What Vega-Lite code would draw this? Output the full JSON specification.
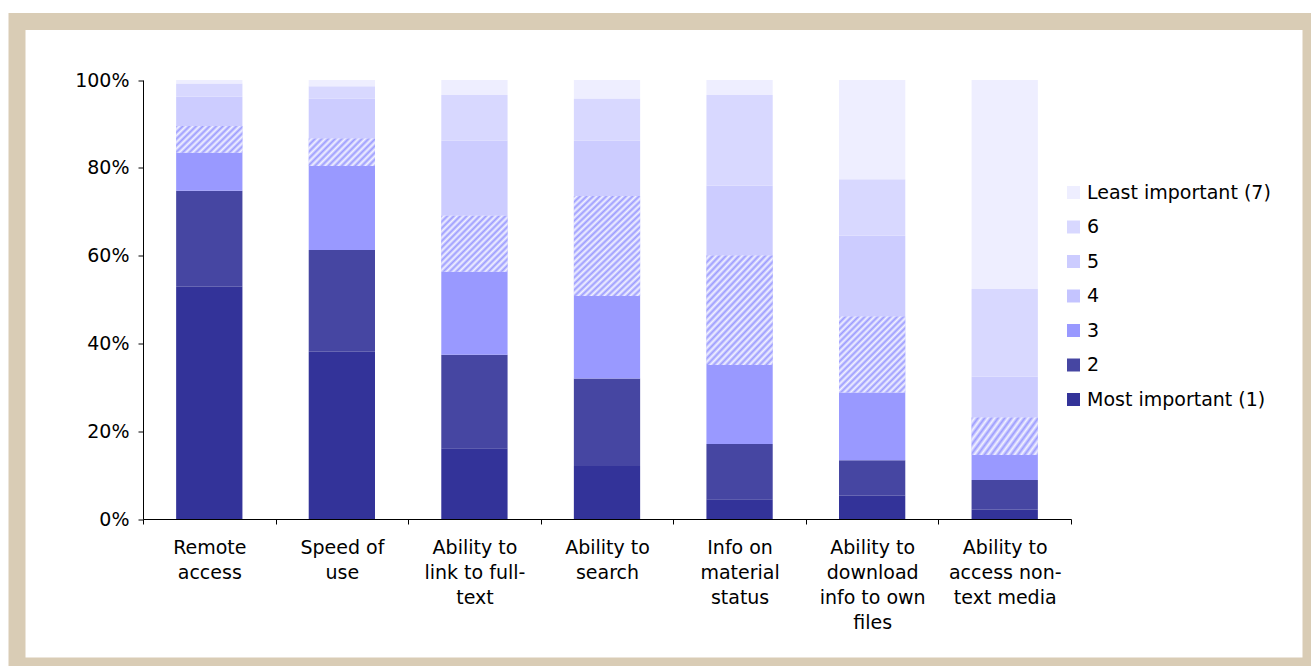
{
  "$schema": "https://vega.github.io/schema/vega-lite/v6.json",
  "width": 1294,
  "height": 644.5,
  "autosize": {"type": "none"},
  "padding": {"left": 17, "top": 21.5, "right": 0, "bottom": 0},
  "background": "white",
  "config": {
    "view": {"fill": "white", "stroke": "#D9CCB5", "strokeWidth": 17},
    "font": "DejaVu Sans"
  },
  "data": {
    "values": [
      {"item": "Remote access", "rank": 1, "label": "Most important (1)", "value": 52.9},
      {"item": "Remote access", "rank": 2, "label": "2", "value": 21.9},
      {"item": "Remote access", "rank": 3, "label": "3", "value": 8.6},
      {"item": "Remote access", "rank": 4, "label": "4", "value": 6.1},
      {"item": "Remote access", "rank": 5, "label": "5", "value": 6.7},
      {"item": "Remote access", "rank": 6, "label": "6", "value": 3.0},
      {"item": "Remote access", "rank": 7, "label": "Least important (7)", "value": 0.8},
      {"item": "Speed of use", "rank": 1, "label": "Most important (1)", "value": 38.1},
      {"item": "Speed of use", "rank": 2, "label": "2", "value": 23.2},
      {"item": "Speed of use", "rank": 3, "label": "3", "value": 19.1},
      {"item": "Speed of use", "rank": 4, "label": "4", "value": 6.3},
      {"item": "Speed of use", "rank": 5, "label": "5", "value": 9.1},
      {"item": "Speed of use", "rank": 6, "label": "6", "value": 2.8},
      {"item": "Speed of use", "rank": 7, "label": "Least important (7)", "value": 1.4},
      {"item": "Ability to link to full-text", "rank": 1, "label": "Most important (1)", "value": 16.1},
      {"item": "Ability to link to full-text", "rank": 2, "label": "2", "value": 21.3},
      {"item": "Ability to link to full-text", "rank": 3, "label": "3", "value": 18.9},
      {"item": "Ability to link to full-text", "rank": 4, "label": "4", "value": 12.8},
      {"item": "Ability to link to full-text", "rank": 5, "label": "5", "value": 17.1},
      {"item": "Ability to link to full-text", "rank": 6, "label": "6", "value": 10.4},
      {"item": "Ability to link to full-text", "rank": 7, "label": "Least important (7)", "value": 3.4},
      {"item": "Ability to search", "rank": 1, "label": "Most important (1)", "value": 12.1},
      {"item": "Ability to search", "rank": 2, "label": "2", "value": 19.9},
      {"item": "Ability to search", "rank": 3, "label": "3", "value": 18.8},
      {"item": "Ability to search", "rank": 4, "label": "4", "value": 22.8},
      {"item": "Ability to search", "rank": 5, "label": "5", "value": 12.6},
      {"item": "Ability to search", "rank": 6, "label": "6", "value": 9.6},
      {"item": "Ability to search", "rank": 7, "label": "Least important (7)", "value": 4.2},
      {"item": "Info on material status", "rank": 1, "label": "Most important (1)", "value": 4.5},
      {"item": "Info on material status", "rank": 2, "label": "2", "value": 12.6},
      {"item": "Info on material status", "rank": 3, "label": "3", "value": 18.0},
      {"item": "Info on material status", "rank": 4, "label": "4", "value": 24.9},
      {"item": "Info on material status", "rank": 5, "label": "5", "value": 15.9},
      {"item": "Info on material status", "rank": 6, "label": "6", "value": 20.7},
      {"item": "Info on material status", "rank": 7, "label": "Least important (7)", "value": 3.4},
      {"item": "Ability to download info to own files", "rank": 1, "label": "Most important (1)", "value": 5.3},
      {"item": "Ability to download info to own files", "rank": 2, "label": "2", "value": 8.1},
      {"item": "Ability to download info to own files", "rank": 3, "label": "3", "value": 15.4},
      {"item": "Ability to download info to own files", "rank": 4, "label": "4", "value": 17.3},
      {"item": "Ability to download info to own files", "rank": 5, "label": "5", "value": 18.4},
      {"item": "Ability to download info to own files", "rank": 6, "label": "6", "value": 12.9},
      {"item": "Ability to download info to own files", "rank": 7, "label": "Least important (7)", "value": 22.6},
      {"item": "Ability to access non-text media", "rank": 1, "label": "Most important (1)", "value": 2.1},
      {"item": "Ability to access non-text media", "rank": 2, "label": "2", "value": 6.8},
      {"item": "Ability to access non-text media", "rank": 3, "label": "3", "value": 5.7},
      {"item": "Ability to access non-text media", "rank": 4, "label": "4", "value": 8.5},
      {"item": "Ability to access non-text media", "rank": 5, "label": "5", "value": 9.3},
      {"item": "Ability to access non-text media", "rank": 6, "label": "6", "value": 20.0},
      {"item": "Ability to access non-text media", "rank": 7, "label": "Least important (7)", "value": 47.6}
    ]
  },
  "transform": [
    {"stack": "value", "groupby": ["item"], "sort": [{"field": "rank", "order": "ascending"}], "offset": "normalize", "as": ["y0", "y1"]}
  ],
  "encoding": {
    "x": {
      "field": "item",
      "type": "nominal",
      "sort": ["Remote access", "Speed of use", "Ability to link to full-text", "Ability to search", "Info on material status", "Ability to download info to own files", "Ability to access non-text media"],
      "scale": {"range": [126, 1054], "paddingInner": 0, "paddingOuter": 0},
      "axis": {
        "title": null,
        "orient": "bottom",
        "offset": -147,
        "tickBand": "extent",
        "tickSize": 5,
        "tickColor": "#000000",
        "domainColor": "#000000",
        "labelAngle": 0,
        "labelFontSize": 19,
        "labelColor": "#000000",
        "labelLineHeight": 25,
        "labelPadding": 14,
        "labelLimit": 0,
        "labelOverlap": false,
        "labelBound": false,
        "grid": false,
        "labelExpr": "{'Remote access': ['Remote', 'access'], 'Speed of use': ['Speed of', 'use'], 'Ability to link to full-text': ['Ability to', 'link to full-', 'text'], 'Ability to search': ['Ability to', 'search'], 'Info on material status': ['Info on', 'material', 'status'], 'Ability to download info to own files': ['Ability to', 'download', 'info to own', 'files'], 'Ability to access non-text media': ['Ability to', 'access non-', 'text media']}[datum.value]"
      }
    },
    "y": {
      "field": "y0",
      "type": "quantitative",
      "scale": {"domain": [0, 1], "range": [497.5, 58.5], "nice": false},
      "axis": {
        "title": null,
        "orient": "left",
        "offset": -126,
        "values": [0, 0.2, 0.4, 0.6, 0.8, 1],
        "format": ".0%",
        "grid": false,
        "tickSize": 5,
        "tickColor": "#000000",
        "domainColor": "#000000",
        "labelFontSize": 19,
        "labelColor": "#000000",
        "labelPadding": 9
      }
    },
    "y2": {"field": "y1"}
  },
  "layer": [
    {
      "mark": {"type": "bar", "width": {"band": 0.5}},
      "encoding": {
        "color": {
          "field": "label",
          "type": "nominal",
          "scale": {
            "domain": ["Least important (7)", "6", "5", "4", "3", "2", "Most important (1)"],
            "range": ["#eeeeff", "#d8d8ff", "#ccccff", "#c4c4ff", "#9999ff", "#4646a2", "#333399"]
          },
          "legend": {
            "title": null,
            "orient": "none",
            "legendX": 1047,
            "legendY": 161.5,
            "symbolType": "square",
            "symbolSize": 169,
            "symbolStrokeWidth": 0,
            "labelFontSize": 19,
            "labelColor": "#000000",
            "labelOffset": 4,
            "labelLimit": 400,
            "rowPadding": 14.5,
            "padding": 0
          }
        }
      }
    },
    {
      "transform": [{"filter": "datum.rank == 4 && (datum.item == 'Remote access' || datum.item == 'Speed of use' || datum.item == 'Ability to access non-text media')"}],
      "mark": {
        "type": "bar",
        "width": {"band": 0.5},
        "fill": {
          "gradient": "linear", "x1": 0, "y1": 0, "x2": 1.207, "y2": 0.5,
          "stops": [
            {"offset": 0, "color": "#9c9cff"}, {"offset": 0.0357, "color": "#f2f2ff"},
            {"offset": 0.0714, "color": "#9c9cff"}, {"offset": 0.1071, "color": "#f2f2ff"},
            {"offset": 0.1429, "color": "#9c9cff"}, {"offset": 0.1786, "color": "#f2f2ff"},
            {"offset": 0.2143, "color": "#9c9cff"}, {"offset": 0.25, "color": "#f2f2ff"},
            {"offset": 0.2857, "color": "#9c9cff"}, {"offset": 0.3214, "color": "#f2f2ff"},
            {"offset": 0.3571, "color": "#9c9cff"}, {"offset": 0.3929, "color": "#f2f2ff"},
            {"offset": 0.4286, "color": "#9c9cff"}, {"offset": 0.4643, "color": "#f2f2ff"},
            {"offset": 0.5, "color": "#9c9cff"}, {"offset": 0.5357, "color": "#f2f2ff"},
            {"offset": 0.5714, "color": "#9c9cff"}, {"offset": 0.6071, "color": "#f2f2ff"},
            {"offset": 0.6429, "color": "#9c9cff"}, {"offset": 0.6786, "color": "#f2f2ff"},
            {"offset": 0.7143, "color": "#9c9cff"}, {"offset": 0.75, "color": "#f2f2ff"},
            {"offset": 0.7857, "color": "#9c9cff"}, {"offset": 0.8214, "color": "#f2f2ff"},
            {"offset": 0.8571, "color": "#9c9cff"}, {"offset": 0.8929, "color": "#f2f2ff"},
            {"offset": 0.9286, "color": "#9c9cff"}, {"offset": 0.9643, "color": "#f2f2ff"},
            {"offset": 1, "color": "#9c9cff"}
          ]
        }
      }
    },
    {
      "transform": [{"filter": "datum.rank == 4 && datum.item == 'Ability to link to full-text'"}],
      "mark": {
        "type": "bar",
        "width": {"band": 0.5},
        "fill": {
          "gradient": "linear", "x1": 0, "y1": 0, "x2": 1.075, "y2": 0.911,
          "stops": [
            {"offset": 0, "color": "#9c9cff"}, {"offset": 0.0263, "color": "#f2f2ff"},
            {"offset": 0.0526, "color": "#9c9cff"}, {"offset": 0.0789, "color": "#f2f2ff"},
            {"offset": 0.1053, "color": "#9c9cff"}, {"offset": 0.1316, "color": "#f2f2ff"},
            {"offset": 0.1579, "color": "#9c9cff"}, {"offset": 0.1842, "color": "#f2f2ff"},
            {"offset": 0.2105, "color": "#9c9cff"}, {"offset": 0.2368, "color": "#f2f2ff"},
            {"offset": 0.2632, "color": "#9c9cff"}, {"offset": 0.2895, "color": "#f2f2ff"},
            {"offset": 0.3158, "color": "#9c9cff"}, {"offset": 0.3421, "color": "#f2f2ff"},
            {"offset": 0.3684, "color": "#9c9cff"}, {"offset": 0.3947, "color": "#f2f2ff"},
            {"offset": 0.4211, "color": "#9c9cff"}, {"offset": 0.4474, "color": "#f2f2ff"},
            {"offset": 0.4737, "color": "#9c9cff"}, {"offset": 0.5, "color": "#f2f2ff"},
            {"offset": 0.5263, "color": "#9c9cff"}, {"offset": 0.5526, "color": "#f2f2ff"},
            {"offset": 0.5789, "color": "#9c9cff"}, {"offset": 0.6053, "color": "#f2f2ff"},
            {"offset": 0.6316, "color": "#9c9cff"}, {"offset": 0.6579, "color": "#f2f2ff"},
            {"offset": 0.6842, "color": "#9c9cff"}, {"offset": 0.7105, "color": "#f2f2ff"},
            {"offset": 0.7368, "color": "#9c9cff"}, {"offset": 0.7632, "color": "#f2f2ff"},
            {"offset": 0.7895, "color": "#9c9cff"}, {"offset": 0.8158, "color": "#f2f2ff"},
            {"offset": 0.8421, "color": "#9c9cff"}, {"offset": 0.8684, "color": "#f2f2ff"},
            {"offset": 0.8947, "color": "#9c9cff"}, {"offset": 0.9211, "color": "#f2f2ff"},
            {"offset": 0.9474, "color": "#9c9cff"}, {"offset": 0.9737, "color": "#f2f2ff"},
            {"offset": 1, "color": "#9c9cff"}
          ]
        }
      }
    },
    {
      "transform": [{"filter": "datum.rank == 4 && (datum.item == 'Ability to search' || datum.item == 'Info on material status')"}],
      "mark": {
        "type": "bar",
        "width": {"band": 0.5},
        "fill": {
          "gradient": "linear", "x1": 0, "y1": 0, "x2": 0.74, "y2": 1.165,
          "stops": [
            {"offset": 0, "color": "#9c9cff"}, {"offset": 0.0192, "color": "#f2f2ff"},
            {"offset": 0.0385, "color": "#9c9cff"}, {"offset": 0.0577, "color": "#f2f2ff"},
            {"offset": 0.0769, "color": "#9c9cff"}, {"offset": 0.0962, "color": "#f2f2ff"},
            {"offset": 0.1154, "color": "#9c9cff"}, {"offset": 0.1346, "color": "#f2f2ff"},
            {"offset": 0.1538, "color": "#9c9cff"}, {"offset": 0.1731, "color": "#f2f2ff"},
            {"offset": 0.1923, "color": "#9c9cff"}, {"offset": 0.2115, "color": "#f2f2ff"},
            {"offset": 0.2308, "color": "#9c9cff"}, {"offset": 0.25, "color": "#f2f2ff"},
            {"offset": 0.2692, "color": "#9c9cff"}, {"offset": 0.2885, "color": "#f2f2ff"},
            {"offset": 0.3077, "color": "#9c9cff"}, {"offset": 0.3269, "color": "#f2f2ff"},
            {"offset": 0.3462, "color": "#9c9cff"}, {"offset": 0.3654, "color": "#f2f2ff"},
            {"offset": 0.3846, "color": "#9c9cff"}, {"offset": 0.4038, "color": "#f2f2ff"},
            {"offset": 0.4231, "color": "#9c9cff"}, {"offset": 0.4423, "color": "#f2f2ff"},
            {"offset": 0.4615, "color": "#9c9cff"}, {"offset": 0.4808, "color": "#f2f2ff"},
            {"offset": 0.5, "color": "#9c9cff"}, {"offset": 0.5192, "color": "#f2f2ff"},
            {"offset": 0.5385, "color": "#9c9cff"}, {"offset": 0.5577, "color": "#f2f2ff"},
            {"offset": 0.5769, "color": "#9c9cff"}, {"offset": 0.5962, "color": "#f2f2ff"},
            {"offset": 0.6154, "color": "#9c9cff"}, {"offset": 0.6346, "color": "#f2f2ff"},
            {"offset": 0.6538, "color": "#9c9cff"}, {"offset": 0.6731, "color": "#f2f2ff"},
            {"offset": 0.6923, "color": "#9c9cff"}, {"offset": 0.7115, "color": "#f2f2ff"},
            {"offset": 0.7308, "color": "#9c9cff"}, {"offset": 0.75, "color": "#f2f2ff"},
            {"offset": 0.7692, "color": "#9c9cff"}, {"offset": 0.7885, "color": "#f2f2ff"},
            {"offset": 0.8077, "color": "#9c9cff"}, {"offset": 0.8269, "color": "#f2f2ff"},
            {"offset": 0.8462, "color": "#9c9cff"}, {"offset": 0.8654, "color": "#f2f2ff"},
            {"offset": 0.8846, "color": "#9c9cff"}, {"offset": 0.9038, "color": "#f2f2ff"},
            {"offset": 0.9231, "color": "#9c9cff"}, {"offset": 0.9423, "color": "#f2f2ff"},
            {"offset": 0.9615, "color": "#9c9cff"}, {"offset": 0.9808, "color": "#f2f2ff"},
            {"offset": 1, "color": "#9c9cff"}
          ]
        }
      }
    },
    {
      "transform": [{"filter": "datum.rank == 4 && datum.item == 'Ability to download info to own files'"}],
      "mark": {
        "type": "bar",
        "width": {"band": 0.5},
        "fill": {
          "gradient": "linear", "x1": 0, "y1": 0, "x2": 0.928, "y2": 1.063,
          "stops": [
            {"offset": 0, "color": "#9c9cff"}, {"offset": 0.0227, "color": "#f2f2ff"},
            {"offset": 0.0455, "color": "#9c9cff"}, {"offset": 0.0682, "color": "#f2f2ff"},
            {"offset": 0.0909, "color": "#9c9cff"}, {"offset": 0.1136, "color": "#f2f2ff"},
            {"offset": 0.1364, "color": "#9c9cff"}, {"offset": 0.1591, "color": "#f2f2ff"},
            {"offset": 0.1818, "color": "#9c9cff"}, {"offset": 0.2045, "color": "#f2f2ff"},
            {"offset": 0.2273, "color": "#9c9cff"}, {"offset": 0.25, "color": "#f2f2ff"},
            {"offset": 0.2727, "color": "#9c9cff"}, {"offset": 0.2955, "color": "#f2f2ff"},
            {"offset": 0.3182, "color": "#9c9cff"}, {"offset": 0.3409, "color": "#f2f2ff"},
            {"offset": 0.3636, "color": "#9c9cff"}, {"offset": 0.3864, "color": "#f2f2ff"},
            {"offset": 0.4091, "color": "#9c9cff"}, {"offset": 0.4318, "color": "#f2f2ff"},
            {"offset": 0.4545, "color": "#9c9cff"}, {"offset": 0.4773, "color": "#f2f2ff"},
            {"offset": 0.5, "color": "#9c9cff"}, {"offset": 0.5227, "color": "#f2f2ff"},
            {"offset": 0.5455, "color": "#9c9cff"}, {"offset": 0.5682, "color": "#f2f2ff"},
            {"offset": 0.5909, "color": "#9c9cff"}, {"offset": 0.6136, "color": "#f2f2ff"},
            {"offset": 0.6364, "color": "#9c9cff"}, {"offset": 0.6591, "color": "#f2f2ff"},
            {"offset": 0.6818, "color": "#9c9cff"}, {"offset": 0.7045, "color": "#f2f2ff"},
            {"offset": 0.7273, "color": "#9c9cff"}, {"offset": 0.75, "color": "#f2f2ff"},
            {"offset": 0.7727, "color": "#9c9cff"}, {"offset": 0.7955, "color": "#f2f2ff"},
            {"offset": 0.8182, "color": "#9c9cff"}, {"offset": 0.8409, "color": "#f2f2ff"},
            {"offset": 0.8636, "color": "#9c9cff"}, {"offset": 0.8864, "color": "#f2f2ff"},
            {"offset": 0.9091, "color": "#9c9cff"}, {"offset": 0.9318, "color": "#f2f2ff"},
            {"offset": 0.9545, "color": "#9c9cff"}, {"offset": 0.9773, "color": "#f2f2ff"},
            {"offset": 1, "color": "#9c9cff"}
          ]
        }
      }
    }
  ]
}
